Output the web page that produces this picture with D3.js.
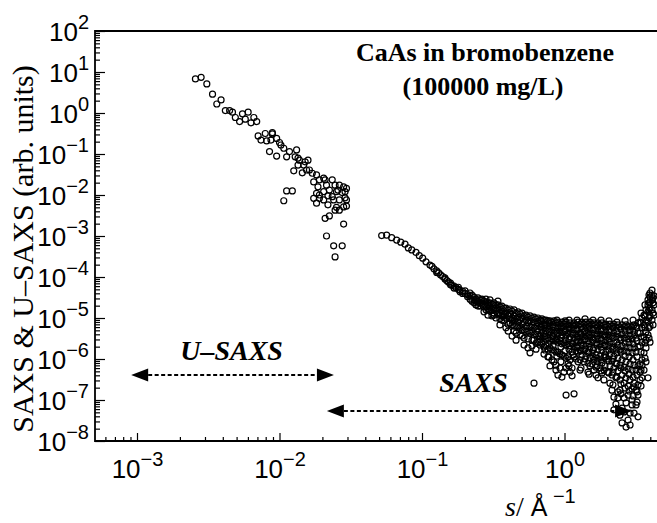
<!DOCTYPE html>
<html>
<head>
<script src="https://d3js.org/d3.v7.min.js"></script>
<style>
  body { margin: 0; background: #fff; }
  svg { display: block; }
</style>
</head>
<body>
<svg id="chart"></svg>
<script>
// values, stored as [log10 s, log10 I]
var usaxs = [
  [-2.59,0.83],[-2.55,0.87],[-2.51,0.71],[-2.47,0.46],[-2.44,0.22],[-2.41,0.32],[-2.38,0.06],[-2.35,0.06],
  [-2.33,0.02],[-2.31,-0.11],[-2.28,-0.21],[-2.26,-0.02],[-2.22,0.02],[-2.24,-0.15],[-2.20,-0.24],[-2.18,-0.11],
  [-2.16,-0.21],[-2.15,-0.56],[-2.10,-0.50],[-2.13,-0.66],[-2.09,-0.68],[-2.05,-0.51],[-2.05,-0.48],[-2.06,-0.66],
  [-2.02,-0.62],[-2.00,-0.72],[-1.99,-0.78],[-2.07,-0.94],[-2.02,-1.05],[-1.97,-0.86],[-1.95,-1.07],[-1.93,-0.94],
  [-1.88,-0.90],[-1.89,-1.07],[-1.87,-1.10],[-1.86,-1.15],[-1.82,-1.19],[-1.80,-1.15],[-1.87,-1.27],[-1.83,-1.27],
  [-1.90,-1.41],[-1.84,-1.46],[-1.81,-1.39],[-1.79,-1.39],[-1.77,-1.47],[-1.74,-1.51],[-1.69,-1.59],[-1.76,-1.68],
  [-1.72,-1.63],[-1.68,-1.63],[-1.63,-1.63],[-1.73,-1.80],[-1.67,-1.76],[-1.61,-1.76],[-1.58,-1.76],[-1.55,-1.80],
  [-1.53,-1.84],[-1.74,-1.96],[-1.69,-1.92],[-1.65,-1.88],[-1.59,-1.88],[-1.54,-1.92],[-1.56,-1.94],[-1.60,-1.92],
  [-1.72,-2.00],[-1.76,-2.08],[-1.72,-2.08],[-1.66,-2.02],[-1.63,-2.04],[-1.62,-2.12],[-1.58,-2.12],[-1.69,-2.12],
  [-1.54,-2.07],[-1.53,-2.12],[-1.74,-2.20],[-1.66,-2.24],[-1.60,-2.30],[-1.53,-2.27],[-1.55,-2.29],[-1.61,-2.37],
  [-1.58,-2.37],[-1.68,-2.57],[-1.65,-2.51],[-1.55,-2.71],[-1.95,-1.90],[-1.91,-1.90],[-1.97,-2.14],[-1.67,-3.00],
  [-1.62,-3.24],[-1.56,-3.24],[-1.61,-3.51]
];

// SAXS, grouped by s: [log10 s, [log10 I, ...]]
var saxs = [
  [-1.283,[-2.99]],[-1.248,[-2.98]],[-1.213,[-3.04]],[-1.178,[-3.10]],[-1.149,[-3.15]],[-1.119,[-3.20]],
  [-1.096,[-3.29]],[-1.072,[-3.34]],[-1.042,[-3.40]],[-1.019,[-3.48]],[-0.995,[-3.54]],[-0.972,[-3.63]],
  [-0.944,[-3.71]],[-0.930,[-3.74]],[-0.916,[-3.80]],[-0.897,[-3.89,-3.85]],[-0.883,[-3.90]],[-0.869,[-3.95]],
  [-0.855,[-3.99]],[-0.839,[-4.05,-4.02]],[-0.825,[-4.09]],[-0.815,[-4.12]],[-0.800,[-4.15,-4.19]],
  [-0.792,[-4.20]],[-0.775,[-4.22,-4.27]],[-0.761,[-4.26]],[-0.745,[-4.30,-4.25]],[-0.733,[-4.32,-4.36]],
  [-0.715,[-4.35,-4.40]],[-0.698,[-4.40,-4.34]],[-0.680,[-4.43,-4.48]],[-0.663,[-4.46,-4.54,-4.39]],
  [-0.649,[-4.44,-4.59]],
  [-0.635,[-4.49,-4.56,-4.63]],
  [-0.621,[-4.54,-4.68,-4.59]],
  [-0.607,[-4.51,-4.61,-4.71]],
  [-0.593,[-4.56,-4.71,-4.63]],
  [-0.579,[-4.56,-4.66,-4.54]],
  [-0.565,[-4.59,-4.73,-4.85]],
  [-0.551,[-4.61,-4.71,-4.80,-4.54]],
  [-0.537,[-4.63,-4.78,-4.68,-4.93]],
  [-0.523,[-4.63,-4.73,-4.83,-4.56]],
  [-0.509,[-4.66,-4.80,-4.95]],
  [-0.495,[-4.63,-4.76,-4.88,-4.93]],
  [-0.481,[-4.68,-4.83,-5.00,-4.76]],
  [-0.467,[-4.68,-4.78,-4.90,-4.59]],
  [-0.453,[-4.73,-4.88,-5.02,-5.17]],
  [-0.439,[-4.71,-4.83,-4.95,-5.05]],
  [-0.425,[-4.76,-4.90,-5.07,-4.95]],
  [-0.411,[-4.76,-4.88,-5.00,-5.24]],
  [-0.396,[-4.80,-4.95,-5.15,-5.32]],
  [-0.382,[-4.78,-4.90,-5.02,-5.12]],
  [-0.368,[-4.83,-5.00,-5.17,-5.05,-5.44]],
  [-0.354,[-4.80,-4.95,-5.07,-5.20,-5.32]],
  [-0.340,[-4.88,-5.02,-5.20,-5.37,-5.54]],
  [-0.326,[-4.85,-4.98,-5.10,-5.22]],
  [-0.312,[-4.90,-5.05,-5.24,-5.41]],
  [-0.298,[-4.88,-5.00,-5.15,-5.29,-5.44]],
  [-0.284,[-4.95,-5.10,-5.29,-5.49,-5.66]],
  [-0.270,[-4.93,-5.05,-5.20,-5.34]],
  [-0.256,[-4.98,-5.12,-5.32,-5.51,-5.73]],
  [-0.242,[-4.95,-5.07,-5.22,-5.37,-5.85]],
  [-0.228,[-5.00,-5.17,-5.34,-5.54,-5.68]],
  [-0.214,[-4.98,-5.10,-5.24,-5.41,-5.54,-6.59]],
  [-0.200,[-5.02,-5.20,-5.39,-5.61,-5.76]],
  [-0.186,[-5.00,-5.12,-5.27,-5.44,-5.59]],
  [-0.172,[-5.05,-5.22,-5.44,-5.66,-5.59]],
  [-0.165,[-5.07,-5.39,-5.22]],
  [-0.158,[-5.02,-5.15,-5.29,-5.49,-5.63]],
  [-0.144,[-5.05,-5.24,-5.46,-5.71,-5.88]],
  [-0.137,[-5.15,-5.44,-5.78]],
  [-0.130,[-5.05,-5.17,-5.32,-5.51,-5.68]],
  [-0.116,[-5.07,-5.27,-5.49,-5.76,-5.95]],
  [-0.109,[-5.12,-5.32,-5.63,-5.95]],
  [-0.102,[-5.07,-5.20,-5.34,-5.54,-5.73,-6.17]],
  [-0.088,[-5.10,-5.29,-5.51,-5.78,-6.02]],
  [-0.081,[-5.17,-5.46,-5.68]],
  [-0.074,[-5.07,-5.22,-5.37,-5.56,-5.78,-6.07]],
  [-0.060,[-5.12,-5.32,-5.54,-5.83,-6.15,-6.27]],
  [-0.053,[-5.05,-5.37,-5.51,-5.93]],
  [-0.046,[-5.10,-5.24,-5.39,-5.59,-5.83,-6.39]],
  [-0.032,[-5.15,-5.32,-5.56,-5.88,-6.22]],
  [-0.025,[-5.20,-5.49,-5.71,-6.07]],
  [-0.018,[-5.10,-5.24,-5.41,-5.63,-5.90,-6.44]],
  [-0.004,[-5.15,-5.34,-5.61,-5.93,-6.32]],
  [0.004,[-5.07,-5.32,-5.54,-5.80]],
  [0.011,[-5.10,-5.27,-5.44,-5.66,-5.98,-6.22,-6.88]],
  [0.025,[-5.17,-5.37,-5.63,-5.95,-6.12]],
  [0.032,[-5.05,-5.22,-5.51,-5.76,-6.17]],
  [0.039,[-5.12,-5.27,-5.46,-5.68,-6.02,-6.32]],
  [0.053,[-5.17,-5.37,-5.61,-5.83,-6.22,-6.41]],
  [0.060,[-5.20,-5.41,-5.63,-5.90]],
  [0.067,[-5.12,-5.29,-5.49,-5.71,-5.95,-6.85]],
  [0.081,[-5.17,-5.39,-5.59,-5.80,-6.00]],
  [0.088,[-5.05,-5.29,-5.56,-5.73]],
  [0.095,[-5.10,-5.27,-5.46,-5.68,-5.83,-6.07]],
  [0.109,[-5.15,-5.37,-5.56,-5.78,-6.02,-6.27]],
  [0.116,[-5.22,-5.39,-5.61,-5.80,-6.22]],
  [0.123,[-5.10,-5.27,-5.46,-5.66,-5.90]],
  [0.137,[-5.15,-5.34,-5.54,-5.78,-6.07]],
  [0.144,[-5.02,-5.32,-5.51,-5.76,-6.00]],
  [0.151,[-5.10,-5.24,-5.44,-5.68,-5.93]],
  [0.165,[-5.15,-5.37,-5.56,-5.83,-6.10,-6.32]],
  [0.172,[-5.20,-5.41,-5.63,-5.85,-6.37]],
  [0.179,[-5.10,-5.27,-5.46,-5.71,-5.98,-6.17]],
  [0.193,[-5.15,-5.37,-5.59,-5.85,-6.12]],
  [0.200,[-5.05,-5.27,-5.54,-5.78,-5.95]],
  [0.207,[-5.12,-5.29,-5.49,-5.73,-6.02,-6.27]],
  [0.221,[-5.17,-5.39,-5.61,-5.90,-6.20,-6.39]],
  [0.228,[-5.22,-5.44,-5.66,-5.98,-6.17]],
  [0.235,[-5.12,-5.32,-5.51,-5.76,-6.07,-6.46]],
  [0.249,[-5.17,-5.39,-5.63,-5.93,-6.22]],
  [0.256,[-5.05,-5.27,-5.49,-5.71,-6.02,-6.29]],
  [0.263,[-5.12,-5.32,-5.54,-5.78,-6.10,-6.34]],
  [0.277,[-5.17,-5.41,-5.66,-5.95,-6.27,-6.51]],
  [0.284,[-5.22,-5.46,-5.66,-5.90,-6.17]],
  [0.291,[-5.15,-5.34,-5.56,-5.83,-5.95]],
  [0.305,[-5.20,-5.41,-5.68,-6.00,-6.32]],
  [0.312,[-5.07,-5.29,-5.51,-5.78,-6.05,-6.34]],
  [0.319,[-5.15,-5.34,-5.59,-5.88,-6.17,-6.59]],
  [0.333,[-5.20,-5.44,-5.71,-6.05,-6.39,-6.76]],
  [0.340,[-5.24,-5.49,-5.76,-6.00,-6.32,-6.63]],
  [0.347,[-5.15,-5.37,-5.61,-5.93,-6.22,-6.93,-7.24]],
  [0.361,[-5.22,-5.46,-5.76,-6.10,-6.46,-7.10]],
  [0.368,[-5.10,-5.32,-5.59,-5.85,-6.12,-6.44]],
  [0.375,[-5.17,-5.39,-5.66,-5.98,-6.29,-6.80,-6.95]],
  [0.389,[-5.22,-5.49,-5.78,-6.15,-6.51,-6.76,-7.37]],
  [0.396,[-5.27,-5.54,-5.83,-6.22,-6.61,-6.85]],
  [0.404,[-5.17,-5.39,-5.68,-6.02,-6.39,-7.20,-7.56]],
  [0.418,[-5.22,-5.49,-5.80,-6.20,-6.59,-6.95,-7.29]],
  [0.425,[-5.07,-5.32,-5.61,-5.93,-6.29,-6.71]],
  [0.432,[-5.17,-5.41,-5.71,-6.07,-6.46,-7.07,-7.66]],
  [0.446,[-5.22,-5.51,-5.83,-6.24,-6.66,-6.88,-7.49]],
  [0.453,[-5.29,-5.59,-5.95,-6.37,-6.78]],
  [0.460,[-5.20,-5.44,-5.73,-6.12,-6.51,-5.29,-7.32,-7.61]],
  [0.474,[-5.22,-5.51,-5.85,-6.27,-6.73,-7.00,-7.12]],
  [0.481,[-5.05,-5.32,-5.63,-6.02,-6.44,-6.90]],
  [0.488,[-5.17,-5.41,-5.73,-6.15,-6.59,-6.68,-7.32]],
  [0.502,[-5.20,-5.49,-5.83,-6.27,-6.76,-7.12]],
  [0.509,[-5.24,-5.56,-5.95,-6.39,-6.80,-7.05]],
  [0.516,[-5.12,-5.37,-5.71,-6.17,-6.63,-6.88,-7.41]],
  [0.530,[-5.10,-5.37,-5.68,-6.12,-6.51,-6.32]],
  [0.537,[-4.88,-5.12,-5.46,-5.83,-6.27,-6.66]],
  [0.544,[-5.00,-5.24,-5.59,-6.02,-6.46,-6.15]],
  [0.558,[-4.93,-5.17,-5.46,-5.85,-6.27]],
  [0.565,[-4.68,-4.95,-5.24,-5.61,-5.98]],
  [0.572,[-4.80,-5.05,-5.34,-5.73,-6.07,-5.54]],
  [0.586,[-4.56,-4.68,-4.85,-5.10,-5.41,-6.46]],
  [0.593,[-4.44,-4.63,-4.80,-5.00,-5.24,-5.49]],
  [0.600,[-4.39,-4.49,-4.61,-4.76,-4.95,-5.20,-5.59]],
  [0.614,[-4.32,-4.44,-4.56,-4.80,-5.05]],
  [0.621,[-4.51,-4.63,-4.88,-5.17]],
  [0.628,[-4.46,-4.68,-4.93]]
];

var xMajor = [1e-3, 1e-2, 1e-1, 1e0];
var yMajor = [1e2, 1e1, 1e0, 1e-1, 1e-2, 1e-3, 1e-4, 1e-5, 1e-6, 1e-7, 1e-8];

// range arrows: s from, s to, intensity level
var ranges = [
  {label: "U\u2013SAXS", from: 9.1e-4, to: 0.0241, at: 4.1e-7},
  {label: "SAXS", from: 0.0215, to: 2.98, at: 5.4e-8}
];

var W = 657, H = 523;
var pLeft = 95, pTop = 31, pBottom = 441, pRight = 657;

var x = d3.scaleLog().domain([1e-3, 1]).range([137, 564.5]);
var y = d3.scaleLog().domain([1e2, 1e-8]).range([pTop, pBottom]);

var svg = d3.select("#chart").attr("width", W).attr("height", H);

function minors(lo, hi) {
  var out = [];
  for (var e = lo; e <= hi; e++)
    for (var m = 2; m <= 9; m++) out.push(m * Math.pow(10, e));
  return out;
}
var xMinor = minors(-4, 0).filter(function(v) { return x(v) > pLeft + 1 && x(v) < pRight; });
var yMinor = minors(-8, 1);

function expText(sel, v) {
  var e = Math.round(Math.log10(v));
  sel.text(null);
  sel.append("tspan").text("10");
  sel.append("tspan").attr("dy", -12).style("font-size", "20px")
    .text(e < 0 ? "\u2212" + (-e) : e);
}

// x axis
var gx = svg.append("g").attr("transform", "translate(0," + pBottom + ")");
gx.append("g").call(d3.axisBottom(x).tickValues(xMinor).tickSize(-4).tickFormat(""));
gx.append("g").call(d3.axisBottom(x).tickValues(xMajor).tickSize(-8).tickFormat(""))
  .selectAll(".tick text")
  .attr("y", 37).attr("dy", null)
  .each(function(d) { expText(d3.select(this), d); });

// y axis
var gy = svg.append("g").attr("transform", "translate(" + pLeft + ",0)");
gy.append("g").call(d3.axisLeft(y).tickValues(yMinor).tickSize(-5).tickFormat(""));
gy.append("g").call(d3.axisLeft(y).tickValues(yMajor).tickSize(-10).tickPadding(6).tickFormat(""))
  .selectAll(".tick text")
  .attr("dy", 9)
  .each(function(d) { expText(d3.select(this), d); });

svg.selectAll(".domain").remove();
svg.selectAll(".tick line").attr("stroke", "#000").attr("stroke-width", 1.2);
svg.selectAll(".tick text").attr("fill", "#000")
  .style("font-family", "'Liberation Sans', Arial, sans-serif").style("font-size", "26px");

// frame
svg.append("path")
  .attr("d", "M" + pRight + "," + pTop + "H" + pLeft + "V" + pBottom + "H" + pRight)
  .attr("fill", "none").attr("stroke", "#000").attr("stroke-width", 1.8);

// data points
var pts = usaxs.map(function(p) { return [Math.pow(10, p[0]), Math.pow(10, p[1])]; });
saxs.forEach(function(g) {
  g[1].forEach(function(v) { pts.push([Math.pow(10, g[0]), Math.pow(10, v)]); });
});

svg.append("g").selectAll("circle")
  .data(pts)
  .enter().append("circle")
  .attr("cx", function(d) { return x(d[0]); })
  .attr("cy", function(d) { return y(d[1]); })
  .attr("r", 3)
  .attr("fill", "none")
  .attr("stroke", "#000")
  .attr("stroke-width", 1.2);

// range arrows
var head = 17, half = 6.5;
var arr = svg.append("g").selectAll("g").data(ranges).enter().append("g");
arr.append("line")
  .attr("x1", function(d) { return x(d.from) + head; })
  .attr("x2", function(d) { return x(d.to) - head; })
  .attr("y1", function(d) { return y(d.at); })
  .attr("y2", function(d) { return y(d.at); })
  .attr("stroke", "#000").attr("stroke-width", 2).attr("stroke-dasharray", "4,2.5");
arr.append("path")
  .attr("d", function(d) {
    var a = x(d.from), b = x(d.to), c = y(d.at);
    return "M" + a + "," + c + "L" + (a + head) + "," + (c - half) + "L" + (a + head) + "," + (c + half) + "Z" +
           "M" + b + "," + c + "L" + (b - head) + "," + (c - half) + "L" + (b - head) + "," + (c + half) + "Z";
  })
  .attr("fill", "#000");
arr.append("text")
  .attr("x", function(d, i) { return (x(d.from) + x(d.to)) / 2 - (i ? 6 : 1); })
  .attr("y", function(d, i) { return y(d.at) - (i ? 19 : 15); })
  .attr("text-anchor", "middle")
  .style("font-family", "'Liberation Serif', 'Times New Roman', serif")
  .style("font-size", "28px").style("font-weight", "bold").style("font-style", "italic")
  .text(function(d) { return d.label; });

// sample annotation
var note = svg.append("text")
  .attr("text-anchor", "middle")
  .style("font-family", "'Liberation Serif', 'Times New Roman', serif")
  .style("font-size", "26px").style("font-weight", "bold");
note.append("tspan").attr("x", 485).attr("y", 61).text("CaAs in bromobenzene");
note.append("tspan").attr("x", 483).attr("y", 95).text("(100000 mg/L)");

// axis titles
svg.append("text")
  .attr("transform", "translate(33,249) rotate(-90)")
  .attr("text-anchor", "middle")
  .style("font-family", "'Liberation Serif', 'Times New Roman', serif")
  .style("font-size", "30px")
  .text("SAXS & U\u2013SAXS (arb. units)");

var xt = svg.append("text").attr("x", 505).attr("y", 516);
xt.append("tspan").style("font-family", "'Liberation Serif', serif").style("font-style", "italic")
  .style("font-size", "28px").text("s");
xt.append("tspan").style("font-family", "'Liberation Serif', serif").style("font-size", "28px").text("/ ");
xt.append("tspan").style("font-family", "'Liberation Sans', sans-serif").style("font-size", "25px").text("\u00c5");
xt.append("tspan").attr("dy", -13).style("font-family", "'Liberation Sans', sans-serif")
  .style("font-size", "20px").text(" \u22121");
</script>
</body>
</html>
